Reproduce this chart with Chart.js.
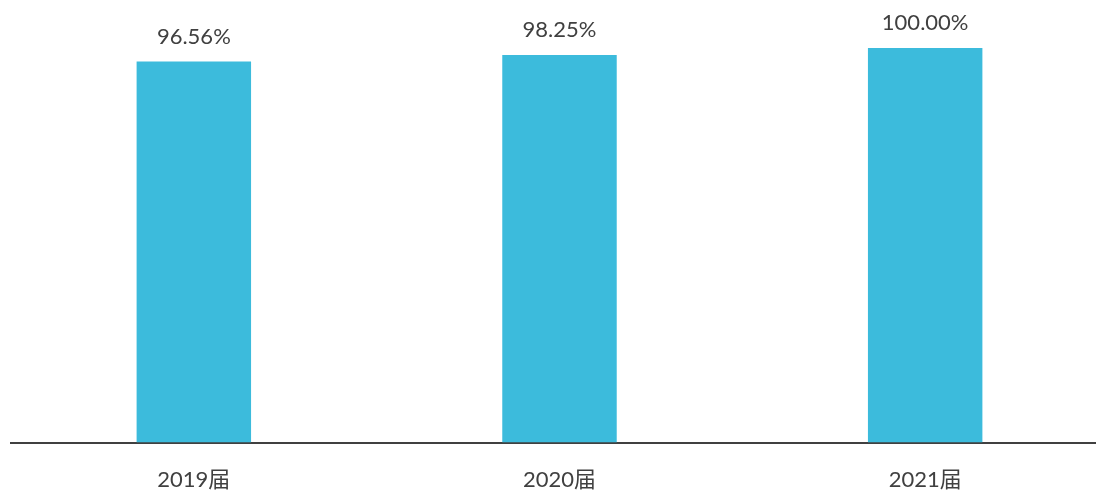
<!DOCTYPE html>
<html>
<head>
<meta charset="utf-8">
<script src="https://cdn.jsdelivr.net/npm/chart.js@4/dist/chart.umd.min.js"></script>
<style>
html,body{margin:0;padding:0;background:#fff;overflow:hidden;width:1096px;height:493px;}
#wrap{width:1108px;height:493px;overflow:hidden;}
</style>
</head>
<body>
<div id="wrap"><canvas id="c" width="1108" height="520"></canvas></div>
<script>
const categories = ["2019届", "2020届", "2021届"];
const values = [96.56, 98.25, 100.00];
const valueLabels = ["96.56%", "98.25%", "100.00%"];

const FONT = "Lato, 'Noto Sans CJK SC', sans-serif";
const TEXT = "#404040";

const labelPlugin = {
  id: 'barLabels',
  afterDatasetsDraw(chart) {
    const ctx = chart.ctx;
    const meta = chart.getDatasetMeta(0);
    ctx.save();
    ctx.font = "22px " + FONT;
    ctx.fillStyle = TEXT;
    ctx.textAlign = 'center';
    ctx.textBaseline = 'alphabetic';
    meta.data.forEach((bar, i) => {
      ctx.fillText(valueLabels[i], bar.x, bar.y - 18);
    });
    ctx.restore();
  }
};

new Chart(document.getElementById('c'), {
  type: 'bar',
  data: {
    labels: categories,
    datasets: [{
      data: values,
      backgroundColor: 'rgb(60,187,220)',
      borderWidth: 0,
      categoryPercentage: 1,
      barPercentage: 0.313
    }]
  },
  options: {
    responsive: false,
    animation: false,
    devicePixelRatio: 1,
    layout: { padding: { top: 48, left: 11, right: 0, bottom: 3 } },
    plugins: { legend: { display: false }, tooltip: { enabled: false } },
    scales: {
      x: {
        grid: { display: false, drawTicks: false, tickLength: 0 },
        border: { display: true, color: '#404040', width: 2 },
        ticks: { color: TEXT, font: { family: FONT, size: 22 }, padding: 24 }
      },
      y: {
        display: false,
        min: 0,
        max: 100
      }
    }
  },
  plugins: [labelPlugin]
});
</script>
</body>
</html>
